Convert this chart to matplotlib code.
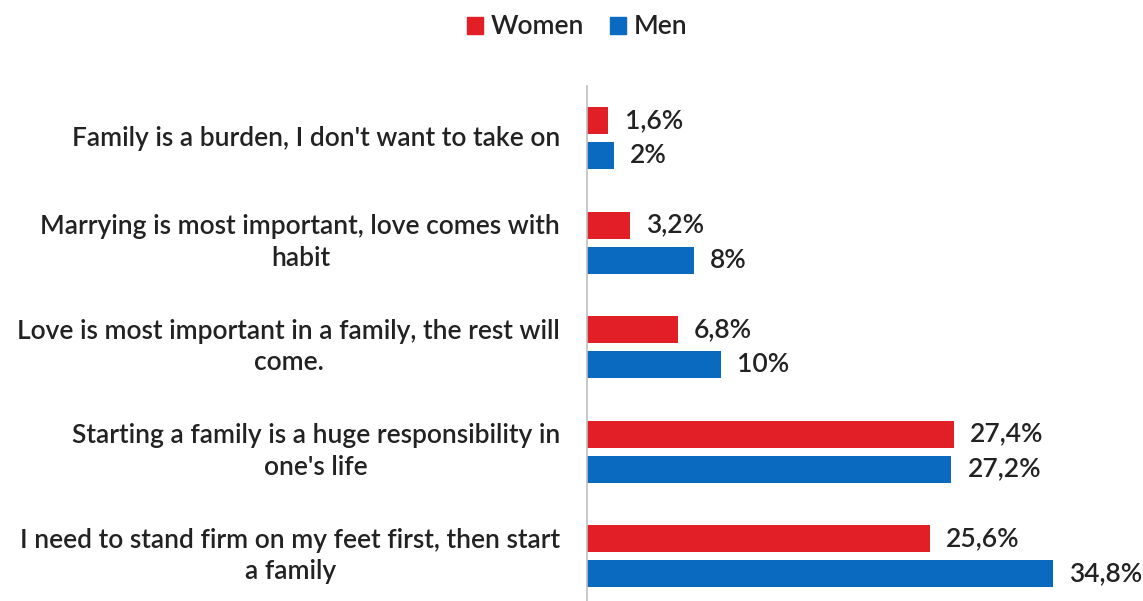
import numpy as np
import matplotlib
matplotlib.use("Agg")
import matplotlib.pyplot as plt
from matplotlib.patches import Patch

plt.rcParams["font.family"] = ["Lato", "DejaVu Sans"]
plt.rcParams["font.weight"] = "semibold"

categories = [
    "Family is a burden, I don't want to take on",
    "Marrying is most important, love comes with\nhabit",
    "Love is most important in a family, the rest will\ncome.",
    "Starting a family is a huge responsibility in\none's life",
    "I need to stand firm on my feet first, then start\na family",
]
women = [1.6, 3.2, 6.8, 27.4, 25.6]
men = [2.0, 8.0, 10.0, 27.2, 34.8]

RED = "#e21f26"
BLUE = "#0a6abf"
TXT = "#222222"


def fmt(v):
    s = f"{v:.1f}".replace(".", ",")
    if s.endswith(",0"):
        s = s[:-2]
    return s + "%"


fig = plt.figure(figsize=(11.43, 6.01), dpi=100)
ax = fig.add_axes([587 / 1143, 0, 536 / 1143, 515 / 601])

y = np.arange(len(categories))
off = 0.1675
h = 0.26
bw = ax.barh(y - off, women, h, color=RED)
bm = ax.barh(y + off, men, h, color=BLUE)

for bars in (bw, bm):
    for b in bars:
        v = b.get_width()
        ax.text(v + 1.2, b.get_y() + b.get_height() / 2, fmt(v),
                ha="left", va="center", fontsize=19, color=TXT)

for yi, lab in zip(y, categories):
    ax.text(-2.0, yi, lab, ha="right", va="center", fontsize=19,
            color=TXT, multialignment="center", linespacing=1.32)

ax.set_xlim(0, 40)
ax.set_ylim(4.43, -0.5)
ax.set_xticks([])
ax.set_yticks([])
for s in ("top", "right", "bottom"):
    ax.spines[s].set_visible(False)
ax.spines["left"].set_color("#bfbfbf")
ax.spines["left"].set_linewidth(1.2)

handles = [Patch(color=RED, label="Women"), Patch(color=BLUE, label="Men")]
fig.legend(handles=handles, loc="center", bbox_to_anchor=(0.505, 1 - 27 / 601),
           ncol=2, frameon=False, fontsize=19, handlelength=0.6,
           handleheight=0.6, handletextpad=0.3, columnspacing=1.0,
           labelcolor=TXT)

fig.savefig("out.png", dpi=100)
